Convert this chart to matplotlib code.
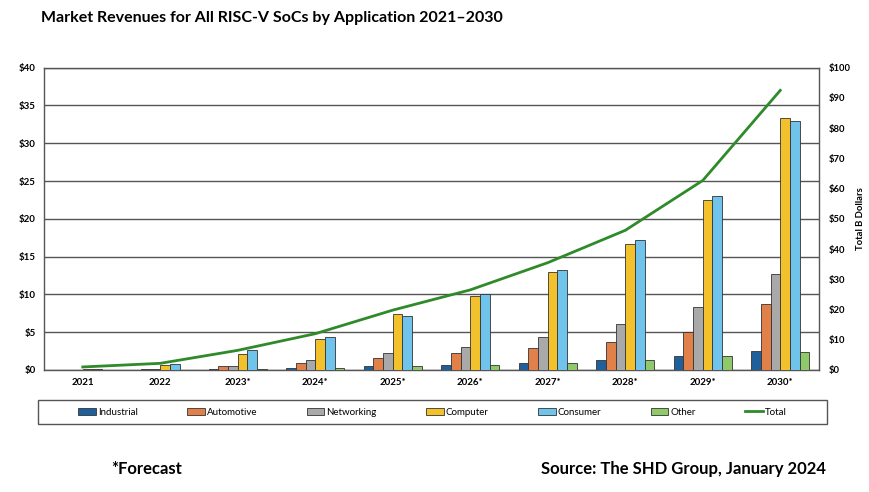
import numpy as np
import matplotlib.pyplot as plt
from matplotlib.patches import Rectangle
from matplotlib.ticker import FuncFormatter, MultipleLocator

plt.rcParams['font.family'] = ['Lato', 'DejaVu Sans']

years = ["2021", "2022", "2023*", "2024*", "2025*", "2026*", "2027*", "2028*", "2029*", "2030*"]
industrial = [0.02, 0.05, 0.15, 0.3, 0.5, 0.7, 0.92, 1.35, 1.9, 2.5]
automotive = [0.05, 0.1, 0.5, 0.9, 1.6, 2.2, 2.9, 3.7, 5.0, 8.7]
networking = [0.05, 0.1, 0.5, 1.3, 2.3, 3.1, 4.4, 6.05, 8.4, 12.7]
computer = [0.1, 0.6, 2.05, 4.1, 7.4, 9.8, 13.0, 16.7, 22.5, 33.4]
consumer = [0.1, 0.8, 2.7, 4.3, 7.2, 10.0, 13.25, 17.2, 23.0, 32.9]
other = [0.02, 0.05, 0.15, 0.3, 0.5, 0.6, 0.9, 1.3, 1.8, 2.4]
total = [1.0, 2.2, 6.5, 12.0, 19.8, 26.5, 35.5, 46.2, 62.7, 92.5]

series = [
    ("Industrial", industrial, "#1f5f9a"),
    ("Automotive", automotive, "#e2804a"),
    ("Networking", networking, "#a9a9a9"),
    ("Computer", computer, "#f2c12b"),
    ("Consumer", consumer, "#70c3ea"),
    ("Other", other, "#8fc96a"),
]

fig = plt.figure(figsize=(8.7, 4.92), dpi=100)
ax = fig.add_axes([0.0506, 0.248, 0.8908, 0.6144])

x = np.arange(len(years))
w = 0.125
for i, (name, vals, col) in enumerate(series):
    ax.bar(x + (i - 2.5) * w, vals, width=w, color=col, edgecolor="#333333",
           linewidth=0.6, label=name, zorder=3)

ax.set_xlim(-0.5, len(years) - 0.5)
ax.set_ylim(0, 40)
ax.yaxis.set_major_locator(MultipleLocator(5))
ax.yaxis.set_major_formatter(FuncFormatter(lambda v, p: f"${v:.0f}"))
ax.grid(axis="y", color="#555555", linewidth=1.0, zorder=0)
ax.set_xticks(x)
ax.set_xticklabels(years)
ax.tick_params(length=0, labelsize=7, pad=6)
for lab in ax.get_xticklabels() + ax.get_yticklabels():
    lab.set_fontweight("bold")
for s in ax.spines.values():
    s.set_color("#555555")
    s.set_linewidth(1.0)

ax2 = ax.twinx()
ax2.plot(x, total, color="#2f8a2a", linewidth=2.0, label="Total", zorder=4)
ax2.set_ylim(0, 100)
ax2.yaxis.set_major_locator(MultipleLocator(10))
ax2.yaxis.set_major_formatter(FuncFormatter(lambda v, p: f"${v:.0f}"))
ax2.tick_params(length=0, labelsize=6.8, pad=7)
for lab in ax2.get_yticklabels():
    lab.set_fontweight("bold")
for s in ax2.spines.values():
    s.set_visible(False)
fig.text(0.989, 0.555, "Total B Dollars", rotation=90, fontsize=6.8,
         fontweight="bold", va="center", ha="center")

# legend box below the plot
fig.patches.append(Rectangle((0.0437, 0.139), 0.907, 0.047, transform=fig.transFigure,
                             fill=False, edgecolor="#555555", linewidth=1.0))
h1, l1 = ax.get_legend_handles_labels()
h2, l2 = ax2.get_legend_handles_labels()
leg = fig.legend(h1 + h2, l1 + l2, loc="center", ncol=7,
                 bbox_to_anchor=(0.497, 0.1625), fontsize=7, frameon=False,
                 handlelength=1.8, handleheight=0.8, handletextpad=0.2,
                 columnspacing=5.1, borderaxespad=0)

fig.text(0.047, 0.963, "Market Revenues for All RISC-V SoCs by Application 2021\u20132030",
         fontsize=11.5, fontweight="bold", va="center", ha="left")
fig.text(0.128, 0.047, "*Forecast", fontsize=12, fontweight="bold", va="center", ha="left")
fig.text(0.95, 0.047, "Source: The SHD Group, January 2024", fontsize=12,
         fontweight="bold", va="center", ha="right")

fig.savefig("out.png", dpi=100)
